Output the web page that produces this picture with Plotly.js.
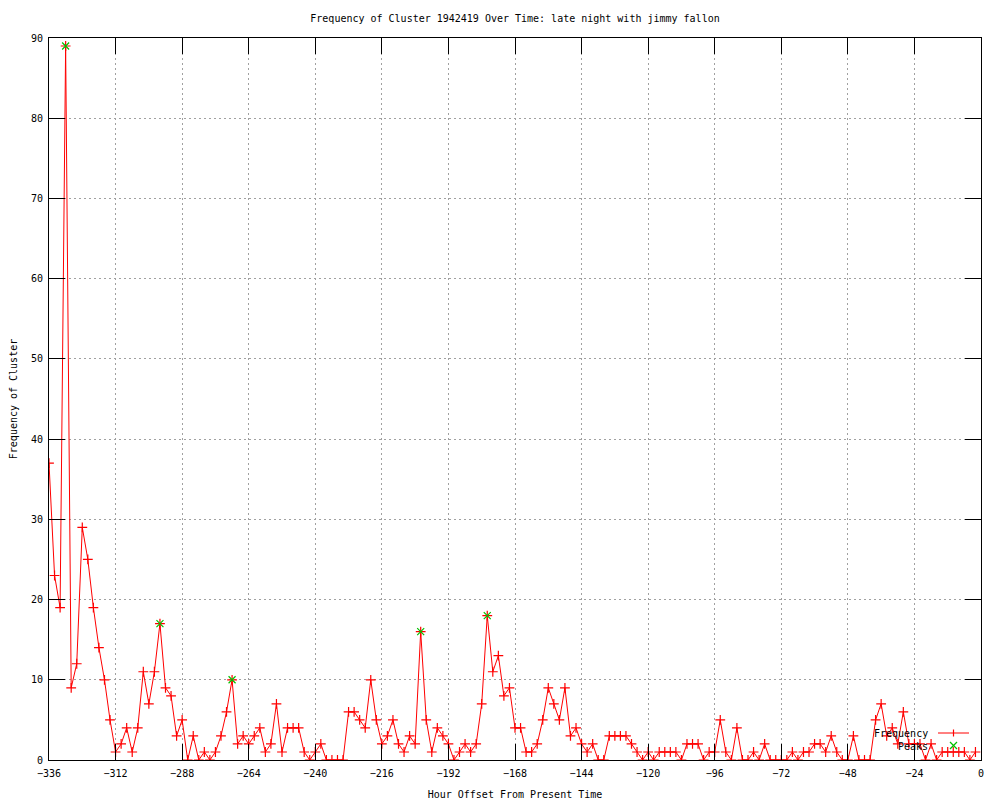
<!DOCTYPE html>
<html>
<head>
<meta charset="utf-8">
<script src="https://cdn.plot.ly/plotly-3.0.1.min.js"></script>
<style>html,body{margin:0;padding:0;background:#fff;}#chart{width:1000px;height:800px;}</style>
</head>
<body>
<div id="chart"></div>
<script>
// Hour offsets (every 2 hours)
const hours = [-336,-334,-332,-330,-328,-326,-324,-322,-320,-318,-316,-314,-312,-310,-308,-306,-304,-302,-300,-298,
-296,-294,-292,-290,-288,-286,-284,-282,-280,-278,-276,-274,-272,-270,-268,-266,-264,-262,-260,-258,
-256,-254,-252,-250,-248,-246,-244,-242,-240,-238,-236,-234,-232,-230,-228,-226,-224,-222,-220,-218,
-216,-214,-212,-210,-208,-206,-204,-202,-200,-198,-196,-194,-192,-190,-188,-186,-184,-182,-180,-178,
-176,-174,-172,-170,-168,-166,-164,-162,-160,-158,-156,-154,-152,-150,-148,-146,-144,-142,-140,-138,
-136,-134,-132,-130,-128,-126,-124,-122,-120,-118,-116,-114,-112,-110,-108,-106,-104,-102,-100,-98,
-96,-94,-92,-90,-88,-86,-84,-82,-80,-78,-76,-74,-72,-70,-68,-66,-64,-62,-60,-58,
-56,-54,-52,-50,-48,-46,-44,-42,-40,-38,-36,-34,-32,-30,-28,-26,-24,-22,-20,-18,
-16,-14,-12,-10,-8,-6,-4,-2];
// Frequency of cluster
const frequency = [37,23,19,89,9,12,29,25,19,14,10,5,1,2,4,1,4,11,7,11,
17,9,8,3,5,0,3,0,1,0,1,3,6,10,2,3,2,3,4,1,
2,7,1,4,4,4,1,0,1,2,0,0,0,0,6,6,5,4,10,5,
2,3,5,2,1,3,2,16,5,1,4,3,2,0,1,2,1,2,7,18,
11,13,8,9,4,4,1,1,2,5,9,7,5,9,3,4,2,1,2,0,
0,3,3,3,3,2,1,0,1,0,1,1,1,1,0,2,2,2,0,1,
1,5,1,0,4,0,0,1,0,2,0,0,0,0,1,0,1,1,2,2,
1,3,1,0,0,3,0,0,0,5,7,3,4,2,6,2,2,2,0,2,
0,1,1,1,1,1,0,1];
// Peaks
const peakHours = [-330,-296,-270,-202,-178];
const peakValues = [89,17,10,16,18];

const titleText = "Frequency of Cluster 1942419 Over Time: late night with jimmy fallon";
const xTitle = "Hour Offset From Present Time";
const yTitle = "Frequency of Cluster";
const seriesNames = ["Frequency", "Peaks"];

const FONT = "DejaVu Sans Mono, Liberation Mono, monospace";
const RED = "#ff0000";
const GREEN = "#00c000";

const traces = [
  {
    x: hours, y: frequency, type: "scatter", mode: "lines+markers", name: seriesNames[0],
    line: {color: RED, width: 1},
    marker: {symbol: "cross-thin-open", size: 7, color: RED, line: {color: RED, width: 1.2}},
    cliponaxis: true, showlegend: false
  },
  {
    x: peakHours, y: peakValues, type: "scatter", mode: "markers", name: seriesNames[1],
    marker: {symbol: "x-thin-open", size: 7, color: GREEN, line: {color: GREEN, width: 1.2}},
    cliponaxis: true, showlegend: false
  }
];

const L = 49, R = 19, T = 38, B = 40, W = 1000, H = 800;
const pw = W - L - R, ph = H - T - B;
function px(x){ return (x - L) / pw; }
function py(y){ return (H - B - y) / ph; }

const axisCommon = {
  showline: true, linecolor: "#000", linewidth: 1, mirror: "ticks",
  ticks: "inside", ticklen: 16, tickcolor: "#000", tickwidth: 1,
  showgrid: true, gridcolor: "#a0a0a0", gridwidth: 1, griddash: "2px,3px",
  zeroline: false, tickfont: {family: FONT, size: 10, color: "#000"},
  automargin: false
};

const layout = {
  width: W, height: H,
  margin: {l: L, r: R, t: T, b: B, pad: 0},
  paper_bgcolor: "#fff", plot_bgcolor: "#fff",
  showlegend: false,
  title: {text: titleText, font: {family: FONT, size: 10, color: "#000"}, x: 0.5, xref: "paper", y: 1 - 18/H, yanchor: "middle"},
  xaxis: Object.assign({}, axisCommon, {
    range: [-336, 0], tick0: 0, dtick: 24, ticklabelstandoff: 4,
    title: {text: xTitle, font: {family: FONT, size: 10, color: "#000"}, standoff: 12}
  }),
  yaxis: Object.assign({}, axisCommon, {
    range: [0, 90], tick0: 0, dtick: 10, ticklabelstandoff: 3,
    title: {text: yTitle, font: {family: FONT, size: 10, color: "#000"}, standoff: 11}
  }),
  annotations: [
    {xref: "paper", yref: "paper", x: px(930), y: py(733), xanchor: "right", yanchor: "middle",
     text: seriesNames[0], showarrow: false, font: {family: FONT, size: 10, color: "#000"}},
    {xref: "paper", yref: "paper", x: px(930), y: py(746.5), xanchor: "right", yanchor: "middle",
     text: seriesNames[1], showarrow: false, font: {family: FONT, size: 10, color: "#000"}}
  ],
  shapes: [
    {type: "line", xref: "paper", yref: "paper", x0: px(938), x1: px(969), y0: py(733), y1: py(733), line: {color: RED, width: 1}},
    {type: "line", xref: "paper", yref: "paper", x0: px(953.5), x1: px(953.5), y0: py(729.5), y1: py(736.5), line: {color: RED, width: 1.2}},
    {type: "line", xref: "paper", yref: "paper", x0: px(950), x1: px(957), y0: py(742), y1: py(749), line: {color: GREEN, width: 1.2}},
    {type: "line", xref: "paper", yref: "paper", x0: px(950), x1: px(957), y0: py(749), y1: py(742), line: {color: GREEN, width: 1.2}}
  ]
};

Plotly.newPlot("chart", traces, layout, {staticPlot: true, displayModeBar: false});
</script>
</body>
</html>
